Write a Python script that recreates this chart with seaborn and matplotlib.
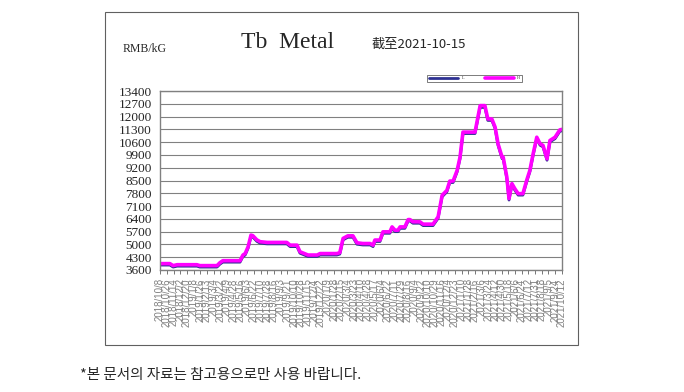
import pandas as pd
import matplotlib
matplotlib.use("Agg")
import matplotlib.pyplot as plt
from matplotlib.patches import Rectangle
import seaborn as sns

dates = [
    "2018-10-08", "2018-11-04", "2018-11-13", "2018-11-24", "2019-01-17", "2019-01-25",
    "2019-03-13", "2019-03-21", "2019-03-29", "2019-05-15", "2019-05-23", "2019-05-29",
    "2019-06-06", "2019-06-14", "2019-06-19", "2019-06-30", "2019-07-09", "2019-07-28",
    "2019-09-20", "2019-09-29", "2019-10-18", "2019-10-26", "2019-11-17", "2019-12-12",
    "2019-12-20", "2020-02-04", "2020-02-12", "2020-02-21", "2020-03-05", "2020-03-19",
    "2020-03-30", "2020-04-15", "2020-05-05", "2020-05-13", "2020-05-18", "2020-06-01",
    "2020-06-09", "2020-06-28", "2020-07-04", "2020-07-12", "2020-07-20", "2020-07-26",
    "2020-08-08", "2020-08-17", "2020-08-22", "2020-08-30", "2020-09-18", "2020-09-27",
    "2020-10-24", "2020-11-07", "2020-11-18", "2020-12-01", "2020-12-09", "2020-12-18",
    "2020-12-29", "2021-01-06", "2021-01-14", "2021-02-16", "2021-03-02", "2021-03-15",
    "2021-03-23", "2021-04-03", "2021-04-12", "2021-04-20", "2021-05-01", "2021-05-04",
    "2021-05-14", "2021-05-20", "2021-05-28", "2021-06-05", "2021-06-14", "2021-06-27",
    "2021-07-08", "2021-07-16", "2021-07-25", "2021-08-04", "2021-08-13", "2021-08-21",
    "2021-09-01", "2021-09-09", "2021-09-23", "2021-10-06", "2021-10-12",
]

high = [
    3950, 3950, 3840, 3890, 3890, 3840, 3840, 4000, 4110, 4110, 4420, 4500, 4870, 5510,
    5480, 5250, 5150, 5110, 5110, 4960, 4960, 4600, 4420, 4420, 4500, 4500, 4550, 5330,
    5470, 5470, 5090, 5050, 5050, 4960, 5240, 5240, 5690, 5690, 5960, 5780, 5780, 5960,
    5960, 6360, 6360, 6240, 6240, 6110, 6110, 6510, 7690, 7960, 8470, 8470, 9050, 9780,
    11150, 11150, 12600, 12600, 11870, 11870, 11420, 10510, 9780, 9780, 8690, 7510, 8330,
    8050, 7780, 7780, 8550, 9050, 9960, 10870, 10510, 10420, 9690, 10690, 10870, 11270, 11300,
]

low = [
    3870, 3870, 3760, 3810, 3810, 3760, 3760, 3920, 4030, 4030, 4340, 4420, 4790, 5420,
    5400, 5170, 5070, 5030, 5030, 4880, 4880, 4520, 4340, 4340, 4420, 4420, 4470, 5250,
    5390, 5390, 5010, 4970, 4970, 4880, 5160, 5160, 5610, 5610, 5880, 5700, 5700, 5880,
    5880, 6280, 6280, 6160, 6160, 6030, 6030, 6430, 7610, 7880, 8390, 8390, 8970, 9700,
    11070, 11070, 12500, 12500, 11790, 11790, 11340, 10430, 9700, 9700, 8610, 7430, 8250,
    7970, 7700, 7700, 8470, 8970, 9880, 10790, 10430, 10340, 9610, 10610, 10790, 11190, 11220,
]

tick_dates = [
    "2018/10/8", "2018/10/26", "2018/11/14", "2018/12/2", "2018/12/20", "2019/1/8",
    "2019/1/26", "2019/2/13", "2019/3/4", "2019/3/22", "2019/4/9", "2019/4/28",
    "2019/5/16", "2019/6/3", "2019/6/22", "2019/7/10", "2019/7/28", "2019/8/16",
    "2019/9/3", "2019/9/21", "2019/10/10", "2019/10/28", "2019/11/15", "2019/12/4",
    "2019/12/22", "2020/1/9", "2020/1/28", "2020/2/15", "2020/3/4", "2020/3/23",
    "2020/4/10", "2020/4/28", "2020/5/17", "2020/6/4", "2020/6/22", "2020/7/11",
    "2020/7/29", "2020/8/16", "2020/9/4", "2020/9/22", "2020/10/10", "2020/10/29",
    "2020/11/16", "2020/12/4", "2020/12/23", "2021/1/10", "2021/1/28", "2021/2/16",
    "2021/3/6", "2021/3/24", "2021/4/12", "2021/4/30", "2021/5/18", "2021/6/6",
    "2021/6/24", "2021/7/12", "2021/7/31", "2021/8/18", "2021/9/5", "2021/9/24",
    "2021/10/12",
]

y_ticks = list(range(3600, 13401, 700))

df = pd.DataFrame({"date": pd.to_datetime(dates), "L": low, "H": high})

sns.set_style("white")
plt.rcParams["font.family"] = ["Liberation Serif", "DejaVu Serif"]

fig = plt.figure(figsize=(6.84, 3.92), dpi=100)
ax = fig.add_axes([160 / 684, 1 - 270 / 392, 402 / 684, 179 / 392])

sns.lineplot(data=df, x="date", y="L", ax=ax, color="#2E3192", linewidth=2.0, label="L")
sns.lineplot(data=df, x="date", y="H", ax=ax, color="#FF00FF", linewidth=2.6, label="H")

ax.set_ylim(3600, 13400)
ax.set_yticks(y_ticks)
ax.set_yticklabels([str(v) for v in y_ticks], fontsize=9.5)
ax.yaxis.grid(True, color="#808080", linewidth=0.8)
ax.tick_params(axis="y", length=0, pad=6)

# date labels are crowded and overlap, as in the source chart
tick_pos = pd.to_datetime(tick_dates, format="%Y/%m/%d")
ax.set_xlim(tick_pos[0], tick_pos[-1])
ax.set_xticks(tick_pos)
ax.set_xticklabels(tick_dates, rotation=90, fontsize=7, color="#808080",
                   family=["Liberation Sans", "DejaVu Sans"])
ax.tick_params(axis="x", length=3, width=0.6, color="#606060", direction="out", pad=3, bottom=True)
ax.set_xlabel("")
ax.set_ylabel("")
for s in ax.spines.values():
    s.set_color("#808080")
    s.set_linewidth(1.0)

leg = ax.legend(loc="lower right", bbox_to_anchor=(524 / 684, 1 - 84 / 392),
                bbox_transform=fig.transFigure, ncol=2, fontsize=3, frameon=True,
                handlelength=7, columnspacing=5, borderpad=0.4, fancybox=False)
leg.get_frame().set_edgecolor("#404040")
leg.get_frame().set_linewidth(0.6)

# outer frame of the chart
fig.patches.append(Rectangle((105 / 684, 1 - 345 / 392), 473 / 684, 333 / 392,
                             transform=fig.transFigure, fill=False,
                             edgecolor="#606060", linewidth=0.8))

fig.text(288 / 684, 1 - 42 / 392, "Tb  Metal", fontsize=17, ha="center", va="center")
fig.text(372 / 684, 1 - 44 / 392, "截至2021-10-15", fontsize=9.5, ha="left", va="center",
         family=["Noto Sans CJK SC", "DejaVu Sans"])
fig.text(123 / 684, 1 - 49 / 392, "RMB/kG", fontsize=8.5, ha="left", va="center")
fig.text(80 / 684, 1 - 375 / 392, "*본 문서의 자료는 참고용으로만 사용 바랍니다.", fontsize=10.5,
         ha="left", va="center", family=["Noto Sans CJK KR", "DejaVu Sans"])

fig.savefig("out.png", dpi=100)
